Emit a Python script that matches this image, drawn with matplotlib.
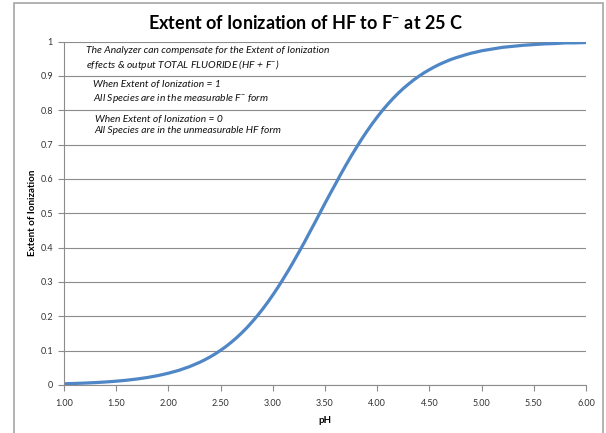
import matplotlib
matplotlib.use("Agg")
import matplotlib.pyplot as plt
from matplotlib.patches import Rectangle

# curve values (denser where the curve bends)
ph = [1.0, 1.1, 1.2, 1.3, 1.4, 1.5, 1.6, 1.7, 1.8, 1.9,
      2.0, 2.1, 2.2, 2.3, 2.35, 2.4, 2.45, 2.5, 2.55, 2.6, 2.65, 2.7, 2.75, 2.8, 2.85, 2.9, 2.95,
      3.0, 3.05, 3.1, 3.15, 3.2, 3.25, 3.3, 3.35, 3.4, 3.45, 3.5, 3.55, 3.6, 3.65, 3.7, 3.75,
      3.8, 3.85, 3.9, 3.95, 4.0, 4.05, 4.1, 4.15, 4.2, 4.25, 4.3, 4.35, 4.4, 4.45, 4.5, 4.55,
      4.6, 4.65, 4.7, 4.75, 4.8, 4.85, 4.9, 4.95,
      5.0, 5.1, 5.2, 5.3, 5.4, 5.5, 5.6, 5.7, 5.8, 5.9, 6.0]
extent = [0.0035, 0.0045, 0.0056, 0.0070, 0.0088, 0.0111, 0.0139, 0.0175, 0.0219, 0.0274,
          0.0343, 0.0427, 0.0532, 0.0661, 0.0736, 0.0818, 0.0909, 0.1009, 0.1118, 0.1238,
          0.1368, 0.151, 0.1663, 0.183, 0.2008, 0.220, 0.2403,
          0.262, 0.2847, 0.309, 0.3339, 0.360, 0.3869, 0.414, 0.4427, 0.471, 0.500, 0.529,
          0.5573, 0.585, 0.6131, 0.640, 0.6662,
          0.691, 0.7153, 0.738, 0.7597, 0.780, 0.7993, 0.817, 0.8337, 0.849, 0.8632, 0.876,
          0.8882, 0.899, 0.9091, 0.918, 0.9264,
          0.934, 0.9406, 0.947, 0.9523, 0.957, 0.9617, 0.966, 0.9693,
          0.973, 0.978, 0.983, 0.986, 0.989, 0.991, 0.993, 0.994, 0.996, 0.996, 0.997]

x_ticks = [1.0, 1.5, 2.0, 2.5, 3.0, 3.5, 4.0, 4.5, 5.0, 5.5, 6.0]
y_ticks = [0, 0.1, 0.2, 0.3, 0.4, 0.5, 0.6, 0.7, 0.8, 0.9, 1]
y_labels = ["0", "0.1", "0.2", "0.3", "0.4", "0.5", "0.6", "0.7", "0.8", "0.9", "1"]

notes = [
    (0.043, 0.988, "The Analyzer can compensate for the Extent of Ionization\neffects & output TOTAL FLUORIDE (HF + F$^{-}$)"),
    (0.055, 0.888, "When Extent of Ionization = 1\nAll Species are in the measurable F$^{-}$ form"),
    (0.059, 0.786, "When Extent of Ionization = 0\nAll Species are in the unmeasurable HF form"),
]

plt.rcParams['font.family'] = ['Lato', 'DejaVu Sans']
plt.rcParams['mathtext.default'] = 'regular'

fig = plt.figure(figsize=(6.06, 4.33), dpi=100)
# outer chart border
fig.patches.append(Rectangle((14 / 606, -0.05), (603 - 14) / 606, (433 - 3) / 433 + 0.05,
                             transform=fig.transFigure, fill=False, edgecolor='#a6a6a6', lw=1.2))

ax = fig.add_axes([64 / 606, 48 / 433, 522 / 606, 343.5 / 433])
ax.plot(ph, extent, color='#4f86c6', lw=2.3, solid_capstyle='round', solid_joinstyle='round')

ax.set_xlim(1, 6)
ax.set_ylim(0, 1)
ax.set_xticks(x_ticks)
ax.set_xticklabels(["%.2f" % v for v in x_ticks])
ax.set_yticks(y_ticks)
ax.set_yticklabels(y_labels)
ax.grid(axis='y', color='#8c8c8c', lw=0.8)
ax.set_axisbelow(True)
for s in ['top', 'right']:
    ax.spines[s].set_visible(False)
for s in ['left', 'bottom']:
    ax.spines[s].set_color('#8c8c8c')
    ax.spines[s].set_linewidth(0.8)
ax.tick_params(axis='both', direction='out', length=4, width=0.8, color='#8c8c8c',
               labelsize=6.5, labelcolor='#333333', pad=6)
ax.tick_params(axis='y', pad=4)

ax.set_xlabel("pH", fontsize=7, fontweight='bold', labelpad=6)
ax.set_ylabel("Extent of Ionization", fontsize=7, fontweight='bold', labelpad=2)

for x, y, t in notes:
    ax.text(x, y, t, transform=ax.transAxes, fontsize=7.4, style='italic',
            va='top', ha='left', linespacing=1.35, color='#111111')

fig.text(0.505, 0.948, "Extent of Ionization of HF to F$^{-}$ at 25 C", ha='center', va='center',
         fontsize=13, fontweight='bold')

plt.savefig("out.png", dpi=100)
